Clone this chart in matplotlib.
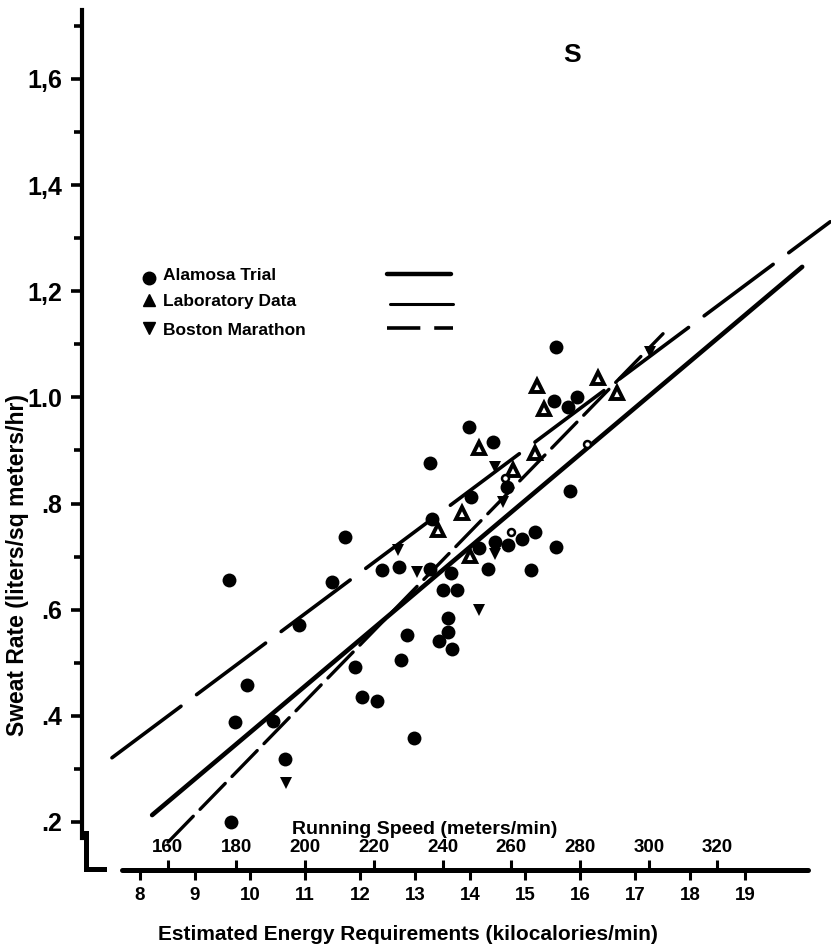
import matplotlib
matplotlib.use("Agg")
import matplotlib.pyplot as plt
from matplotlib.ticker import FixedLocator, FixedFormatter

plt.rcParams['font.family'] = ['Liberation Sans', 'DejaVu Sans']
plt.rcParams['font.weight'] = 'bold'
plt.rcParams['lines.scale_dashes'] = False

# Alamosa Trial (filled circles)
alamosa_energy = [15.56, 15.53, 15.78, 15.95, 13.98, 14.42, 13.27, 14.67, 14.02, 13.31,
                  15.82, 11.73, 15.18, 14.95, 14.69, 14.45, 15.56, 14.16, 14.33, 15.11,
                  13.65, 13.27, 12.71, 12.40, 9.62, 11.49, 13.51, 13.76, 13.60, 13.60,
                  13.44, 13.67, 12.85, 12.75, 10.89, 11.91, 12.04, 12.31, 9.95, 9.73,
                  10.42, 10.64, 12.98, 9.65]
alamosa_sweat = [1.095, 0.993, 0.982, 1.001, 0.944, 0.916, 0.876, 0.831, 0.812, 0.771,
                 0.824, 0.737, 0.746, 0.733, 0.722, 0.728, 0.718, 0.716, 0.677, 0.675,
                 0.669, 0.677, 0.680, 0.675, 0.656, 0.652, 0.637, 0.637, 0.584, 0.558,
                 0.541, 0.526, 0.552, 0.505, 0.571, 0.492, 0.435, 0.428, 0.458, 0.388,
                 0.390, 0.319, 0.358, 0.200]

# Laboratory Data (triangles up)
lab_energy = [15.22, 16.33, 15.35, 14.16, 15.18, 14.78, 13.85, 13.42, 14.00, 16.67]
lab_sweat = [1.022, 1.037, 0.978, 0.905, 0.895, 0.863, 0.782, 0.750, 0.701, 1.008]
# small open symbols that look like worn-out lab marks
lab_small_energy = [14.64, 14.75, 16.13]
lab_small_sweat = [0.848, 0.746, 0.912]

# Boston Marathon (triangles down)
boston_energy = [12.69, 13.04, 14.45, 14.60, 14.45, 14.16, 10.65, 17.27]
boston_sweat = [0.712, 0.671, 0.869, 0.803, 0.705, 0.599, 0.273, 1.086]

# regression lines, end points
alamosa_fit_x = [8.22, 20.04]
alamosa_fit_y = [0.213, 1.246]
lab_fit_x = [8.51, 17.51]
lab_fit_y = [0.162, 1.12]
boston_fit_x = [7.49, 20.55]
boston_fit_y = [0.321, 1.331]

energy_ticks = list(range(8, 20))
speed_ticks = [160, 180, 200, 220, 240, 260, 280, 300, 320]
sweat_ticks = [0.2, 0.4, 0.6, 0.8, 1.0, 1.2, 1.4, 1.6]
sweat_labels = ['.2', '.4', '.6', '.8', '1.0', '1,2', '1,4', '1,6']
sweat_minor = [0.3, 0.5, 0.7, 0.9, 1.1, 1.3, 1.5, 1.7]


def energy_to_speed(e):
    return 160 + (e - 8.5) / 0.0625


def speed_to_energy(s):
    return 8.5 + (s - 160) * 0.0625


def draw_legend(ax):
    rows = [0.6907, 0.6605, 0.6279]
    tr = ax.transAxes
    ax.plot([0.0900], [rows[0] - 0.002], 'o', color='black', ms=9, transform=tr, clip_on=False)
    ax.plot([0.0900], [rows[1] + 0.002], '^', color='black', ms=8, transform=tr, clip_on=False)
    ax.plot([0.0900], [rows[2] + 0.002], 'v', color='black', ms=8, transform=tr, clip_on=False)
    names = ['Alamosa Trial', 'Laboratory Data', 'Boston Marathon']
    for y, name in zip(rows, names):
        ax.text(0.1080, y, name, transform=tr, fontsize=12.5, fontweight='bold',
                va='center', ha='left')
    ax.plot([0.4072, 0.4927], [rows[0] + 0.002] * 2, color='black', lw=3.2,
            transform=tr, solid_capstyle='round')
    ax.plot([0.4112, 0.4950], [rows[1] - 0.002] * 2, color='black', lw=2.2,
            transform=tr, solid_capstyle='round')
    ax.plot([0.4072, 0.4950], [rows[2] + 0.002] * 2, color='black', lw=2.6,
            dashes=(24, 10), transform=tr)


def main():
    fig = plt.figure(figsize=(8.31, 9.48), dpi=100)
    ax = fig.add_axes([82 / 831, 78 / 948, 749 / 831, 860 / 948])
    ax.set_xlim(6.945, 20.564)
    ax.set_ylim(0.1095, 1.730)

    # regression lines
    ax.plot(alamosa_fit_x, alamosa_fit_y, color='black', lw=3.3, solid_capstyle='round')
    ax.plot(lab_fit_x, lab_fit_y, color='black', lw=2.4, dashes=(26, 7),
            dash_capstyle='round')
    ax.plot(boston_fit_x, boston_fit_y, color='black', lw=2.6, dashes=(62, 14),
            dash_capstyle='round')

    # data points
    ax.plot(alamosa_energy, alamosa_sweat, 'o', color='black', ms=10, mew=0)
    ax.plot(lab_energy, lab_sweat, '^', mfc='white', mec='black', ms=8, mew=2.8)
    ax.plot(lab_small_energy, lab_small_sweat, 'o', mfc='white', mec='black', ms=5, mew=1.8)
    ax.plot(boston_energy, boston_sweat, 'v', color='black', ms=9, mew=0)

    # spines
    for side in ('top', 'right'):
        ax.spines[side].set_visible(False)
    ax.spines['left'].set_linewidth(3.0)
    ax.spines['left'].set_bounds(0.17, 1.73)
    ax.spines['bottom'].set_linewidth(3.6)
    ax.spines['bottom'].set_bounds(7.67, 20.15)
    ax.spines['bottom'].set_capstyle('round')

    # axis break mark at the origin
    ax.plot([0.0053, 0.0053, 0.0294], [0.0436, 0.0015, 0.0015], color='black', lw=3.6,
            transform=ax.transAxes, clip_on=False, solid_joinstyle='miter')

    # y axis
    ax.yaxis.set_major_locator(FixedLocator(sweat_ticks))
    ax.yaxis.set_major_formatter(FixedFormatter(sweat_labels))
    ax.yaxis.set_minor_locator(FixedLocator(sweat_minor))
    ax.tick_params(axis='y', which='major', direction='out', length=8, width=2.6,
                   labelsize=18, pad=6)
    ax.tick_params(axis='y', which='minor', direction='out', length=6, width=2.6)
    for lbl in ax.get_yticklabels():
        lbl.set_fontweight('bold')

    # energy axis (ticks down)
    ax.set_xticks(energy_ticks)
    ax.set_xticklabels([str(t) for t in energy_ticks])
    ax.tick_params(axis='x', which='major', direction='out', length=7, width=2.2,
                   labelsize=13.5, pad=5)

    # running speed axis drawn on the same line (ticks up)
    sec = ax.secondary_xaxis(0.0, functions=(energy_to_speed, speed_to_energy))
    sec.set_xticks(speed_ticks)
    sec.xaxis.set_ticks_position('top')
    sec.xaxis.set_label_position('top')
    sec.tick_params(axis='x', which='major', direction='out', length=7, width=2.2,
                    labelsize=13.5, pad=3)
    for side in sec.spines:
        sec.spines[side].set_visible(False)
    sec.set_xlabel('Running Speed (meters/min)', fontsize=14, fontweight='bold',
                   labelpad=4, x=(425 - 82) / 749)

    ax.set_xlabel('Estimated Energy Requirements (kilocalories/min)', fontsize=15,
                  fontweight='bold', labelpad=15, x=(408 - 82) / 749)
    fig.text(18 / 831, 1 - 565 / 948, 'Sweat Rate (liters/sq meters/hr)', rotation=90,
             ha='center', va='center', fontsize=16.5, fontweight='bold')

    fig.text(572 / 831, 1 - 55 / 948, 'S', ha='center', va='center', fontsize=19,
             fontweight='bold')

    draw_legend(ax)

    fig.savefig('out.png', dpi=100)


if __name__ == '__main__':
    main()
